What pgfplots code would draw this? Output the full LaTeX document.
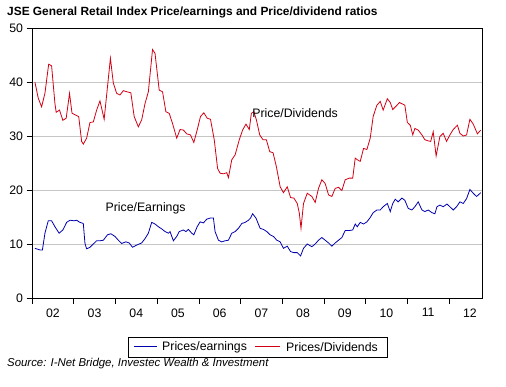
\documentclass[border=0pt]{standalone}
\usepackage{fontspec}
\setmainfont{Liberation Sans}
\usepackage{pgfplots}
\pgfplotsset{compat=1.18}
\definecolor{pered}{RGB}{210,0,20}
\definecolor{peblue}{RGB}{0,0,175}
\begin{document}
\begin{tikzpicture}
% legend frame and sample lines (drawn first)
\draw[draw=pered, line width=1.1pt] (255pt,39.5pt) -- (280pt,39.5pt);
\draw[draw=peblue, line width=1.1pt] (134pt,39.5pt) -- (157pt,39.5pt);
\draw[black, line width=0.6pt] (128pt,29pt) rectangle (387pt,49pt);
\begin{axis}[
  at={(32pt,88pt)}, anchor=south west,
  width=450pt, height=270pt, scale only axis,
  xmin=2002, xmax=2012.79, ymin=0, ymax=50,
  ytick={0,10,20,30,40,50},
  ymajorgrids, grid style={draw=gray!45, line width=0.6pt},
  xtick={2002,...,2012}, xticklabels={},
  minor x tick num=3,
  extra x ticks={2002.5,2003.5,2004.5,2005.5,2006.5,2007.5,2008.5,2009.5,2010.5,2011.5,2012.5},
  extra x tick labels={02,03,04,05,06,07,08,09,10,11,12},
  extra x tick style={major tick length=0pt, xticklabel style={yshift=-7pt}},
  tick align=outside, xtick pos=bottom, ytick pos=left,
  major tick length=5.5pt, minor tick length=3pt,
  tick style={black, line width=0.6pt},
  axis line style={line width=0.8pt},
  tick label style={font=\fontsize{12.3}{14}\selectfont},
  /pgf/number format/assume math mode=true,
]
\addplot[color=peblue, line width=0.8pt] coordinates {
(2002.07,9.2)(2002.19,8.9)(2002.25,8.9)(2002.31,12.0)(2002.39,14.3)(2002.47,14.3)
(2002.55,13.2)(2002.65,12.0)(2002.74,12.6)(2002.83,14.0)(2002.91,14.4)(2003.01,14.3)
(2003.07,14.4)(2003.15,14.0)(2003.23,13.8)(2003.27,10.1)(2003.31,9.1)(2003.39,9.4)
(2003.47,10.0)(2003.55,10.6)(2003.63,10.6)(2003.71,10.7)(2003.81,11.7)(2003.89,11.9)
(2003.99,11.4)(2004.07,10.7)(2004.15,10.1)(2004.25,10.4)(2004.33,10.2)(2004.41,9.4)
(2004.51,9.8)(2004.63,10.2)(2004.71,11.0)(2004.79,12.0)(2004.87,14.0)(2004.95,13.7)
(2005.03,13.2)(2005.11,12.8)(2005.19,12.3)(2005.27,12.0)(2005.31,12.3)(2005.39,10.6)
(2005.47,11.4)(2005.53,12.3)(2005.63,12.6)(2005.69,12.3)(2005.75,12.7)(2005.83,12.0)
(2005.88,11.7)(2005.96,13.2)(2006.03,14.1)(2006.11,13.9)(2006.19,14.6)(2006.27,14.8)
(2006.35,14.8)(2006.39,12.3)(2006.47,10.7)(2006.55,10.4)(2006.63,10.6)(2006.71,10.7)
(2006.79,12.0)(2006.87,12.3)(2006.95,12.9)(2007.03,13.8)(2007.11,14.0)(2007.19,14.4)
(2007.24,14.8)(2007.29,15.6)(2007.37,14.8)(2007.47,12.9)(2007.55,12.7)(2007.63,12.3)
(2007.71,11.7)(2007.79,11.4)(2007.87,10.7)(2007.95,10.4)(2008.03,9.2)(2008.12,9.6)
(2008.20,8.6)(2008.28,8.4)(2008.36,8.4)(2008.44,7.8)(2008.51,9.2)(2008.60,10.0)
(2008.71,9.5)(2008.79,10.0)(2008.87,10.7)(2008.95,11.2)(2009.03,10.7)(2009.11,10.2)
(2009.19,9.6)(2009.27,10.2)(2009.35,10.7)(2009.43,11.2)(2009.51,12.5)(2009.61,12.5)
(2009.69,12.6)(2009.75,13.7)(2009.80,13.2)(2009.87,14.0)(2009.95,13.7)(2010.03,14.1)
(2010.11,14.9)(2010.18,15.8)(2010.27,16.3)(2010.35,16.3)(2010.42,16.9)(2010.52,17.5)
(2010.59,16.0)(2010.65,17.5)(2010.71,18.3)(2010.78,17.8)(2010.87,18.5)(2010.94,18.1)
(2011.02,16.6)(2011.11,16.3)(2011.18,16.9)(2011.26,17.8)(2011.35,16.3)(2011.42,16.0)
(2011.50,16.3)(2011.59,15.8)(2011.66,15.6)(2011.71,16.9)(2011.78,17.2)(2011.86,16.9)
(2011.95,17.4)(2012.02,16.9)(2012.10,16.3)(2012.18,16.9)(2012.26,17.8)(2012.34,17.5)
(2012.42,18.4)(2012.50,20.1)(2012.58,19.4)(2012.66,18.8)(2012.76,19.5)
};
\addplot[color=pered, line width=0.8pt] coordinates {
(2002.07,40.0)(2002.15,37.0)(2002.23,35.4)(2002.31,37.9)(2002.40,43.3)(2002.47,43.0)
(2002.55,36.0)(2002.58,34.4)(2002.66,34.8)(2002.74,32.9)(2002.82,33.3)(2002.90,37.9)
(2002.96,34.2)(2003.04,33.9)(2003.12,33.6)(2003.19,29.0)(2003.23,28.5)(2003.31,29.6)
(2003.39,32.5)(2003.47,32.6)(2003.55,34.8)(2003.63,36.5)(2003.73,33.1)(2003.81,39.1)
(2003.88,44.4)(2003.95,39.8)(2004.03,37.9)(2004.11,37.6)(2004.19,38.4)(2004.27,38.2)
(2004.37,38.0)(2004.45,33.6)(2004.55,31.7)(2004.63,33.0)(2004.71,36.0)(2004.79,38.2)
(2004.89,46.0)(2004.95,45.3)(2005.05,38.5)(2005.13,38.2)(2005.21,34.5)(2005.29,34.2)
(2005.37,32.3)(2005.47,29.6)(2005.55,31.2)(2005.63,31.1)(2005.71,30.4)(2005.80,30.2)
(2005.88,28.8)(2005.96,31.1)(2006.04,33.6)(2006.12,34.3)(2006.20,33.3)(2006.28,33.1)
(2006.37,29.3)(2006.45,24.0)(2006.51,23.1)(2006.59,23.0)(2006.67,23.2)(2006.71,22.3)
(2006.79,25.6)(2006.87,26.5)(2006.97,29.3)(2007.05,31.1)(2007.13,32.2)(2007.21,31.2)
(2007.26,34.2)(2007.32,34.5)(2007.38,33.0)(2007.46,30.2)(2007.54,29.3)(2007.62,29.3)
(2007.70,27.1)(2007.78,26.9)(2007.86,24.3)(2007.95,20.6)(2008.03,19.5)(2008.12,20.6)
(2008.20,18.6)(2008.28,18.5)(2008.36,17.5)(2008.41,15.7)(2008.45,12.9)(2008.51,17.5)
(2008.60,19.4)(2008.71,18.8)(2008.79,17.7)(2008.87,20.3)(2008.95,21.9)(2009.03,21.2)
(2009.11,19.1)(2009.19,18.8)(2009.27,20.3)(2009.35,20.5)(2009.43,19.9)(2009.51,21.9)
(2009.61,22.2)(2009.69,22.2)(2009.75,25.9)(2009.80,25.6)(2009.87,25.3)(2009.95,27.7)
(2010.03,27.5)(2010.11,29.6)(2010.18,33.6)(2010.27,35.7)(2010.35,36.4)(2010.42,34.8)
(2010.52,36.9)(2010.59,36.2)(2010.65,34.9)(2010.74,35.6)(2010.81,36.2)(2010.94,35.7)
(2011.00,32.5)(2011.07,32.0)(2011.13,30.2)(2011.18,31.4)(2011.26,31.1)(2011.35,30.2)
(2011.42,29.3)(2011.50,29.1)(2011.56,29.0)(2011.62,30.8)(2011.69,26.3)(2011.78,29.9)
(2011.86,30.5)(2011.94,29.0)(2012.02,30.2)(2012.10,31.2)(2012.20,32.0)(2012.26,30.5)
(2012.34,30.0)(2012.42,30.2)(2012.50,33.1)(2012.58,32.2)(2012.68,30.4)(2012.76,31.1)
};
\node[anchor=west, font=\fontsize{12.3}{14}\selectfont, inner sep=0pt] at (axis cs:2007.28,34.3) {Price/Dividends};
\node[anchor=west, font=\fontsize{12.3}{14}\selectfont, inner sep=0pt] at (axis cs:2003.76,16.6) {Price/Earnings};
\end{axis}
\node[anchor=west, inner sep=0pt, font=\fontsize{12.3}{14}\selectfont] at (162pt,39pt) {Prices/earnings};
\node[anchor=west, inner sep=0pt, font=\fontsize{12.3}{14}\selectfont] at (286pt,39pt) {Prices/Dividends};
\node[anchor=west, inner sep=0pt, font=\bfseries\fontsize{11.9}{13}\selectfont] at (7pt,374pt) {JSE General Retail Index Price/earnings and Price/dividend ratios};
\node[anchor=west, inner sep=0pt, font=\itshape\fontsize{11.4}{13}\selectfont] at (7pt,22pt) {Source: I-Net Bridge, Investec Wealth \& Investment};
\pgfresetboundingbox
\path[use as bounding box] (0pt,0pt) rectangle (506pt,386pt);
\end{tikzpicture}
\end{document}
